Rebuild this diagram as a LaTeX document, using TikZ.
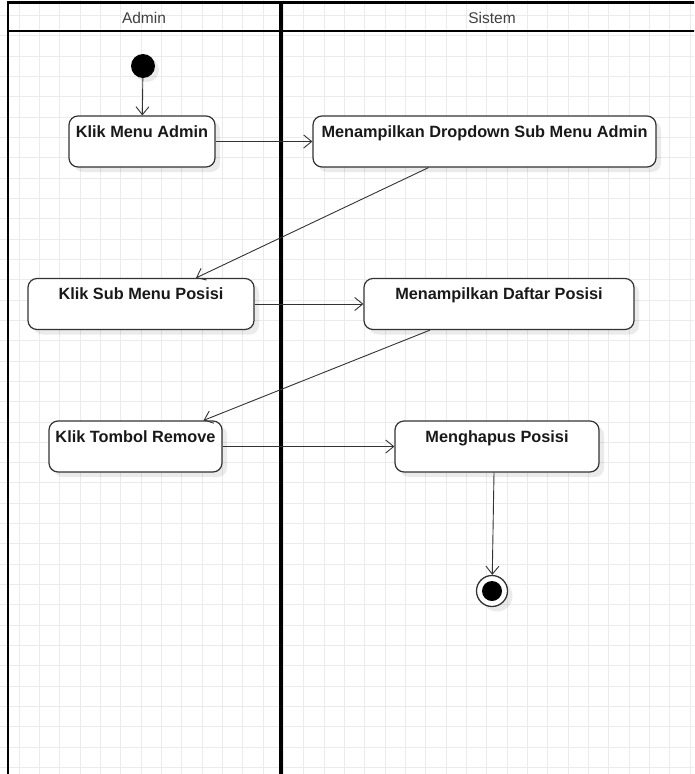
\documentclass[tikz,border=0pt]{standalone}
\usepackage{fontspec}
\setmainfont{Liberation Sans}
\usepackage{tikz}
\usetikzlibrary{arrows.meta,shadows,positioning,calc}

\definecolor{lineclr}{HTML}{333333}
\definecolor{gridclr}{HTML}{EBEBEB}

\tikzset{
  actbox/.style={rectangle, rounded corners=9pt, draw=lineclr, line width=1.2pt, fill=white,
    inner xsep=4pt, inner ysep=4pt, text height=17pt, text depth=26pt, text=black!90,
    font=\fontsize{16.3}{18}\selectfont\bfseries,
    drop shadow={shadow xshift=5pt, shadow yshift=-5pt, fill=black, opacity=0.08}},
  flow/.style={draw=lineclr, line width=0.9pt, -{Straight Barb[length=8pt,width=13pt]}},
  gridline/.style={draw=gridclr, line width=0.8pt},
  lane/.style={draw=black, line width=2.6pt},
  lanetitle/.style={font=\fontsize{15.5}{17}\selectfont, text=black!75}
}

\begin{document}
\begin{tikzpicture}[x=1pt,y=-1pt]
\useasboundingbox (0,0) rectangle (694,774);
\clip (0,0) rectangle (694,774);
\fill[white] (0,0) rectangle (694,774);
% background grid
\foreach \i in {0,...,35} \draw[gridline] (-1.3+20.33*\i,0) -- (-1.3+20.33*\i,774);
\foreach \j in {0,...,38} \draw[gridline] (0,15.3+20.33*\j-20.33) -- (694,15.3+20.33*\j-20.33);
% swimlanes
\draw[lane] (700,2.5) -- (8,2.5) -- (8,780);
\draw[line width=2pt] (8,31) -- (700,31);
\draw[line width=3.8pt] (281,2.5) -- (281,780);
\node[lanetitle] (admin) at (144,18){Admin};
\node[lanetitle] (sistem) at (492,18){Sistem};
% start and activities
\node[circle, fill=black, minimum size=24pt, inner sep=0pt,
  drop shadow={shadow xshift=4pt, shadow yshift=-4pt, fill=black, opacity=0.08}] (start) at (143,66){};
\node[actbox, minimum width=146pt] (menuadmin) at (142,141.5){Klik Menu Admin};
\node[actbox, minimum width=343pt] (dropdown) at (484.5,141.5){Menampilkan Dropdown Sub Menu Admin};
\node[actbox, minimum width=226pt] (subposisi) at (141,304){Klik Sub Menu Posisi};
\node[actbox, minimum width=270pt] (daftar) at (499,304){Menampilkan Daftar Posisi};
\node[actbox, minimum width=173pt] (remove) at (135.5,446.5){Klik Tombol Remove};
\node[actbox, minimum width=204pt] (hapus) at (497,446.5){Menghapus Posisi};
% final node
\node[circle, draw=lineclr, line width=1.3pt, fill=white, minimum size=31pt, inner sep=0pt,
  drop shadow={shadow xshift=5pt, shadow yshift=-5pt, fill=black, opacity=0.08}] (final) at (492,591){};
\node[circle, fill=black, minimum size=20pt, inner sep=0pt] (finaldot) at (final){};
% flows
\draw[flow] (start) -- (menuadmin);
\draw[flow] (menuadmin) -- (dropdown);
\draw[flow] ([xshift=-56pt]dropdown.south) -- ([xshift=55pt]subposisi.north);
\draw[flow] (subposisi) -- (daftar);
\draw[flow] ([xshift=-69pt]daftar.south) -- ([xshift=68pt]remove.north);
\draw[flow] (remove) -- (hapus);
\draw[flow] ([xshift=-3pt]hapus.south) -- (final);
\end{tikzpicture}
\end{document}
